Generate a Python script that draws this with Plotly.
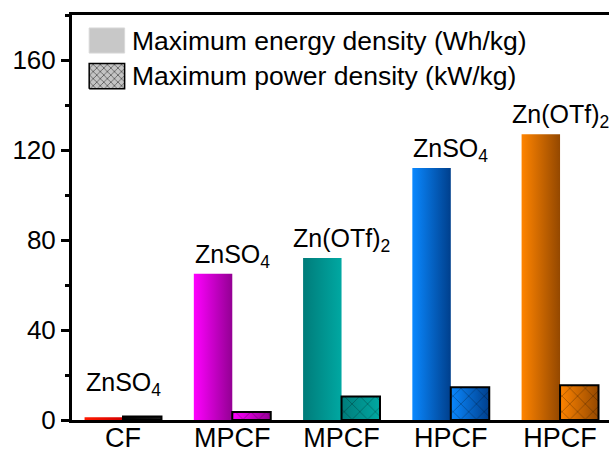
import plotly.graph_objects as go

# ---- data -------------------------------------------------------------
categories = ["CF", "MPCF", "MPCF", "HPCF", "HPCF"]
electrolytes = ["ZnSO<sub>4</sub>", "ZnSO<sub>4</sub>", "Zn(OTf)<sub>2</sub>",
                "ZnSO<sub>4</sub>", "Zn(OTf)<sub>2</sub>"]
energy_density = [1.2, 65, 72, 112, 127]      # Wh/kg
power_density = [1.6, 3.6, 10.4, 14.6, 15.5]  # kW/kg
y_ticks = [0, 40, 80, 120, 160]
legend_labels = ["Maximum energy density (Wh/kg)", "Maximum power density (kW/kg)"]

# ---- style ------------------------------------------------------------
FONT = "Liberation Sans, Arial, sans-serif"
BAR_W = 0.352
LABEL_FLOOR = 8
# left -> right gradient per sample (energy bar, power bar share it)
energy_grad = [("#ff1a00", "#d40000"), ("#ff00ff", "#930093"), ("#007c7a", "#00a8a2"),
               ("#0a88ff", "#003f8c"), ("#ff8400", "#944800")]
power_grad = [("#000000", "#1a1a1a"), ("#ff00ff", "#930093"), ("#007c7a", "#00a8a2"),
              ("#0a88ff", "#003f8c"), ("#ff8400", "#944800")]

fig = go.Figure()


def rect(x0, x1, top):
    return [x0, x0, x1, x1, x0], [0, top, top, 0, 0]


for i, (e, p) in enumerate(zip(energy_density, power_density)):
    # energy bar (left half of the group)
    xs, ys = rect(i - BAR_W, i, e)
    fig.add_trace(go.Scatter(
        x=xs, y=ys, mode="lines", fill="toself", line=dict(width=0),
        fillgradient=dict(type="horizontal",
                          colorscale=[[0, energy_grad[i][0]], [1, energy_grad[i][1]]]),
        hoverinfo="skip", showlegend=False))
    # power bar (right half): gradient underneath, cross-hatch + outline on top
    xs, ys = rect(i, i + BAR_W, p)
    fig.add_trace(go.Scatter(
        x=xs, y=ys, mode="lines", fill="toself", line=dict(width=0),
        fillgradient=dict(type="horizontal",
                          colorscale=[[0, power_grad[i][0]], [1, power_grad[i][1]]]),
        hoverinfo="skip", showlegend=False))
    fig.add_trace(go.Scatter(
        x=xs, y=ys, mode="lines", fill="toself",
        fillcolor="rgba(0,0,0,0)",
        fillpattern=dict(shape="x", fgcolor="rgba(0,0,0,0.75)", bgcolor="rgba(0,0,0,0)",
                         size=11, solidity=0.12, fillmode="overlay"),
        line=dict(color="black", width=2),
        hoverinfo="skip", showlegend=False))
    # electrolyte label above the group
    fig.add_annotation(x=i, y=max(e, LABEL_FLOOR), text=electrolytes[i],
                       showarrow=False, xanchor="center", yanchor="bottom",
                       yshift=0, font=dict(family=FONT, size=25, color="black"))

# ---- legend drawn on an overlay axis in plot-fraction units ------------
LEG_X0, LEG_W, LEG_H = 0.032, 0.066, 0.062
leg_rows = [0.937, 0.849]
leg_x = [LEG_X0, LEG_X0, LEG_X0 + LEG_W, LEG_X0 + LEG_W, LEG_X0]
for k, yc in enumerate(leg_rows):
    ys = [yc - LEG_H / 2, yc + LEG_H / 2, yc + LEG_H / 2, yc - LEG_H / 2, yc - LEG_H / 2]
    if k == 0:
        fig.add_trace(go.Scatter(
            x=leg_x, y=ys, xaxis="x2", yaxis="y2", mode="lines", fill="toself",
            fillcolor="#c8c8c8", line=dict(color="#d8d8d8", width=1),
            hoverinfo="skip", showlegend=False))
    else:
        fig.add_trace(go.Scatter(
            x=leg_x, y=ys, xaxis="x2", yaxis="y2", mode="lines", fill="toself",
            fillcolor="#b4b4b4",
            fillpattern=dict(shape="x", fgcolor="#202020", bgcolor="#c4c4c4",
                             size=5, solidity=0.2, fillmode="replace"),
            line=dict(color="black", width=1.5),
            hoverinfo="skip", showlegend=False))
    fig.add_annotation(x=LEG_X0 + LEG_W + 0.01, y=yc, xref="paper", yref="paper",
                       text=legend_labels[k], showarrow=False,
                       xanchor="left", yanchor="middle",
                       font=dict(family=FONT, size=26.5, color="black"))

fig.update_layout(
    width=609, height=455,
    margin=dict(l=72, r=0, t=15, b=35),
    paper_bgcolor="white", plot_bgcolor="white",
    font=dict(family=FONT, size=26, color="black"),
    showlegend=False,
    xaxis=dict(
        range=[-0.467, 4.448], automargin=False,
        tickmode="array", tickvals=list(range(len(categories))), ticktext=categories,
        ticks="", ticklabelstandoff=-8, showgrid=False, zeroline=False,
        showline=True, linecolor="black", linewidth=3, mirror=True,
        tickfont=dict(family=FONT, size=27, color="black"),
    ),
    yaxis=dict(
        range=[0, 180], automargin=False,
        tickmode="array", tickvals=y_ticks,
        ticks="outside", ticklen=8, tickwidth=3, tickcolor="black",
        minor=dict(dtick=20, tick0=0, ticks="outside", ticklen=4, tickwidth=3,
                   tickcolor="black", showgrid=False),
        showgrid=False, zeroline=False,
        showline=True, linecolor="black", linewidth=3, mirror=False,
        tickfont=dict(family=FONT, size=26, color="black"),
    ),
    xaxis2=dict(range=[0, 1], overlaying="x", visible=False, anchor="y2", automargin=False),
    yaxis2=dict(range=[0, 1], overlaying="y", visible=False, anchor="x2", automargin=False),
)

fig.write_html("out.html")
